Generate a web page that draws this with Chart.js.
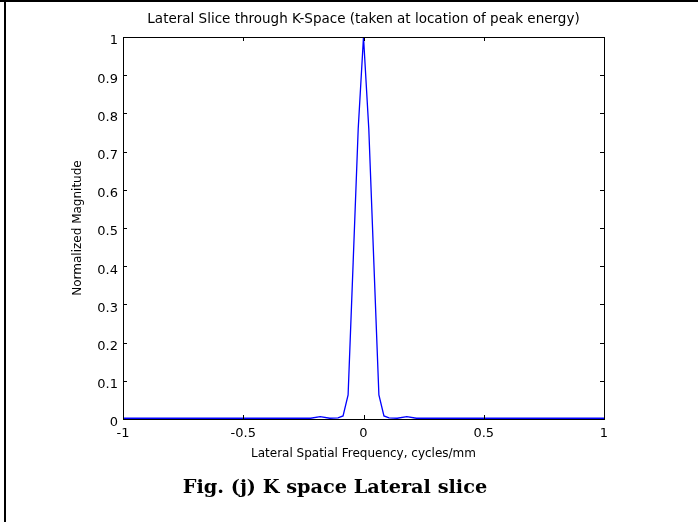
<!DOCTYPE html>
<html>
<head>
<meta charset="utf-8">
<script src="https://cdn.jsdelivr.net/npm/chart.js@4/dist/chart.umd.min.js"></script>
<style>
    body { margin: 0; background: #fff; }
    #marco { position: relative; width: 698px; height: 522px; overflow: hidden; background: #fff; }
    #lineaSuperior { position: absolute; left: 0; top: 0; width: 698px; height: 2px; background: #000; }
    #lineaIzquierda { position: absolute; left: 4px; top: 0; width: 2px; height: 522px; background: #000; }
    #grafica { position: absolute; left: 0; top: 0; }
    #pie { position: absolute; left: 0; top: 475px; width: 670px; text-align: center; font: bold 19.3px "DejaVu Serif", serif; color: #000; }
</style>
</head>
<body>
<div id="marco">
    <canvas id="grafica" width="698" height="470"></canvas>
    <div id="lineaSuperior"></div>
    <div id="lineaIzquierda"></div>
    <div id="pie">Fig. (j) K space Lateral slice</div>
</div>
<script>
const titulo = "Lateral Slice through K-Space (taken at location of peak energy)";
const tituloX = "Lateral Spatial Frequency, cycles/mm";
const tituloY = "Normalized Magnitude";

// frecuencia lateral (cycles/mm) y magnitud normalizada
const frecuencias = [-1, -0.22, -0.18, -0.14, -0.106, -0.085, -0.064, -0.043, -0.022, 0, 0.022, 0.043, 0.064, 0.085, 0.106, 0.14, 0.18, 0.22, 1];
const magnitudes = [0.002, 0.002, 0.006, 0.002, 0.003, 0.008, 0.063, 0.41, 0.76, 1, 0.76, 0.41, 0.063, 0.008, 0.003, 0.002, 0.006, 0.002, 0.002];

const ticksX = [-1, -0.5, 0, 0.5, 1];
const ticksY = [0, 0.1, 0.2, 0.3, 0.4, 0.5, 0.6, 0.7, 0.8, 0.9, 1];

const fuente = "'DejaVu Sans', sans-serif";

// caja estilo matlab con marcas hacia dentro y titulo
const marcoMatlab = {
    id: "marcoMatlab",
    afterDatasetsDraw(chart) {
        const { ctx, chartArea: a, scales: { x, y } } = chart;
        ctx.save();
        ctx.strokeStyle = "#000";
        ctx.lineWidth = 1;
        ctx.beginPath();
        ticksX.forEach((v) => {
            const px = Math.round(x.getPixelForValue(v)) + 0.5;
            ctx.moveTo(px, a.bottom);
            ctx.lineTo(px, a.bottom - 4);
            ctx.moveTo(px, a.top);
            ctx.lineTo(px, a.top + 4);
        });
        ticksY.forEach((v) => {
            const py = Math.round(y.getPixelForValue(v)) + 0.5;
            ctx.moveTo(a.left, py);
            ctx.lineTo(a.left + 4, py);
            ctx.moveTo(a.right, py);
            ctx.lineTo(a.right - 4, py);
        });
        ctx.stroke();
        ctx.strokeRect(Math.round(a.left) + 0.5, Math.round(a.top) + 0.5, Math.round(a.right - a.left), Math.round(a.bottom - a.top));

        ctx.fillStyle = "#000";
        ctx.font = "13.5px " + fuente;
        ctx.textAlign = "center";
        ctx.textBaseline = "middle";
        ctx.fillText(titulo, (a.left + a.right) / 2, 19);
        ctx.restore();
    }
};

const ctx = document.getElementById("grafica");
const grafica = new Chart(ctx, {
    type: "line",
    data: {
        datasets: [
            {
                data: frecuencias.map((f, i) => ({ x: f, y: magnitudes[i] })),
                borderColor: "#0000ff",
                borderWidth: 1.3,
                pointRadius: 0,
                tension: 0,
                fill: false
            }
        ]
    },
    options: {
        responsive: false,
        animation: false,
        layout: {
            padding: { left: 0, right: 94, top: 37, bottom: 0 }
        },
        plugins: {
            legend: { display: false },
            tooltip: { enabled: false }
        },
        scales: {
            x: {
                type: "linear",
                min: -1,
                max: 1,
                afterFit: (scale) => { scale.height = 51; },
                afterBuildTicks: (scale) => { scale.ticks = ticksX.map((v) => ({ value: v })); },
                grid: { display: false, drawTicks: false },
                border: { display: false },
                ticks: {
                    color: "#000",
                    padding: 7,
                    maxRotation: 0,
                    font: { family: fuente, size: 13 },
                    callback: (v) => String(v)
                },
                title: {
                    display: true,
                    text: tituloX,
                    color: "#000",
                    font: { family: fuente, size: 12 },
                    padding: { top: 0, bottom: 9 }
                }
            },
            y: {
                type: "linear",
                min: 0,
                max: 1,
                afterFit: (scale) => { scale.width = 123; },
                afterBuildTicks: (scale) => { scale.ticks = ticksY.map((v) => ({ value: v })); },
                grid: { display: false, drawTicks: false },
                border: { display: false },
                ticks: {
                    color: "#000",
                    padding: 5,
                    labelOffset: 4,
                    font: { family: fuente, size: 13 },
                    callback: (v) => String(v)
                },
                title: {
                    display: true,
                    text: tituloY,
                    color: "#000",
                    font: { family: fuente, size: 12 },
                    padding: { top: 71, bottom: 0 }
                }
            }
        }
    },
    plugins: [marcoMatlab]
});
</script>
</body>
</html>
